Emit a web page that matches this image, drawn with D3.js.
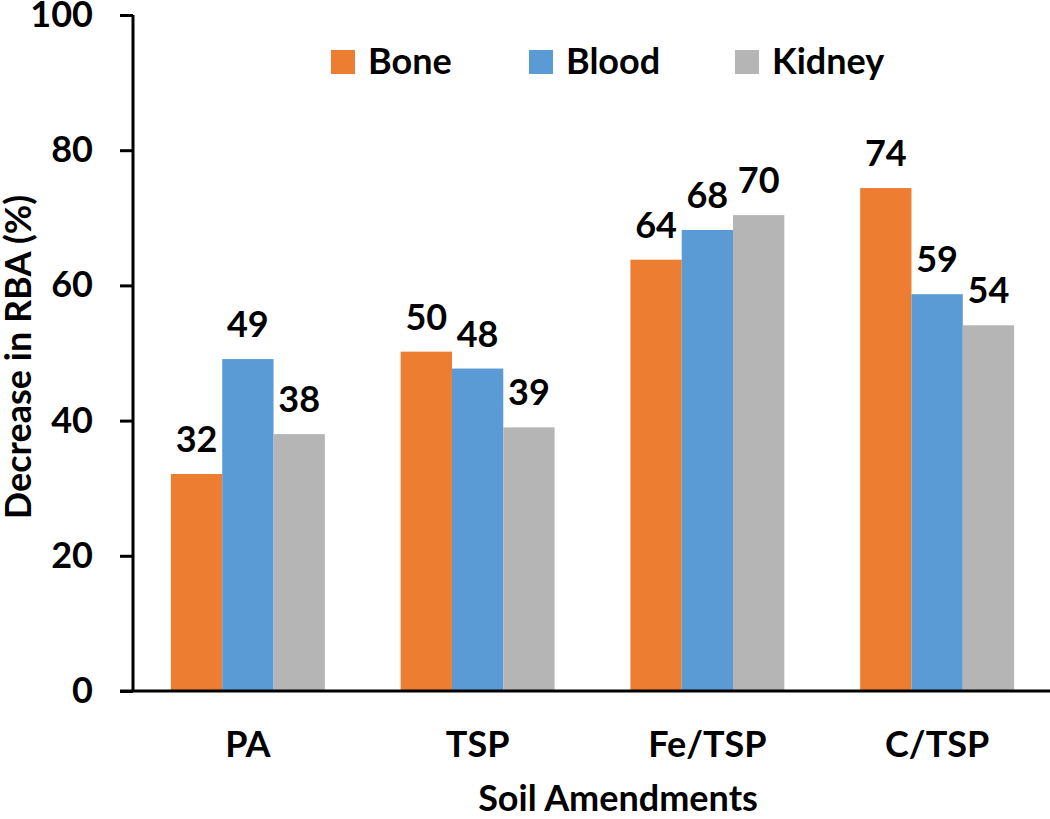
<!DOCTYPE html>
<html>
<head>
<meta charset="utf-8">
<script src="https://cdn.jsdelivr.net/npm/d3@7"></script>
<style>
  html, body { margin: 0; padding: 0; background: #fff; }
  svg { display: block; }
  text { font-family: Lato, "Open Sans", sans-serif; font-weight: 700; fill: #000; }
</style>
</head>
<body>
<svg id="chart" width="1050" height="819"></svg>
<script>
const categories = ["PA", "TSP", "Fe/TSP", "C/TSP"];
const seriesNames = ["Bone", "Blood", "Kidney"];
const bone = [32.1, 50.2, 63.8, 74.4];
const blood = [49.1, 47.7, 68.2, 58.7];
const kidney = [38.0, 39.0, 70.4, 54.1];
const yTicks = [0, 20, 40, 60, 80, 100];
const colors = ["#ED7D31", "#5B9BD5", "#B5B5B5"];
const seriesValues = [bone, blood, kidney];

const svg = d3.select("#chart");
const fs = 36;
const plotLeft = 133, plotRight = 1052, plotTop = 15, plotBottom = 691;

const x0 = d3.scaleBand().domain(categories).range([plotLeft, plotRight])
  .paddingInner(0.33).paddingOuter(0.165);
const x1 = d3.scaleBand().domain(seriesNames).range([0, x0.bandwidth()]).padding(0);
const y = d3.scaleLinear().domain([0, 100]).range([plotBottom, plotTop]);

// bars
const groups = svg.append("g").selectAll("g").data(categories).join("g")
  .attr("transform", c => `translate(${x0(c)},0)`);

groups.selectAll("rect")
  .data((c, i) => seriesNames.map((s, j) => ({ s, j, v: seriesValues[j][i] })))
  .join("rect")
  .attr("x", d => x1(d.s))
  .attr("width", x1.bandwidth())
  .attr("y", d => y(d.v))
  .attr("height", d => y(0) - y(d.v))
  .attr("fill", d => colors[d.j]);

groups.selectAll("text.lbl")
  .data((c, i) => seriesNames.map((s, j) => ({ s, j, v: seriesValues[j][i] })))
  .join("text")
  .attr("class", "lbl")
  .attr("x", d => x1(d.s) + x1.bandwidth() / 2)
  .attr("y", d => y(d.v) - 22)
  .attr("text-anchor", "middle")
  .attr("font-size", fs)
  .text(d => Math.round(d.v));

// y axis
const yAxis = d3.axisLeft(y).tickValues(yTicks).tickSize(13).tickPadding(27);
const gy = svg.append("g").attr("transform", `translate(${plotLeft},0)`).call(yAxis);
gy.select(".domain").attr("d", `M0,${plotTop}V${plotBottom}`).attr("stroke", "#000").attr("stroke-width", 3);
gy.selectAll(".tick line").attr("stroke", "#000").attr("stroke-width", 3);
gy.selectAll(".tick text").attr("font-size", fs).attr("font-family", "Lato, sans-serif")
  .attr("font-weight", 700).attr("fill", "#000");

// x axis
const xAxis = d3.axisBottom(x0).tickSize(0).tickPadding(40);
const gx = svg.append("g").attr("transform", `translate(0,${plotBottom})`).call(xAxis);
gx.select(".domain").attr("d", `M120,0H1050`).attr("stroke", "#000").attr("stroke-width", 3);
gx.selectAll(".tick text").attr("font-size", fs).attr("font-family", "Lato, sans-serif")
  .attr("font-weight", 700).attr("fill", "#000");

// axis titles
svg.append("text")
  .attr("x", 618).attr("y", 811)
  .attr("text-anchor", "middle").attr("font-size", fs)
  .text("Soil Amendments");

svg.append("text")
  .attr("transform", "translate(31,357) rotate(-90)")
  .attr("text-anchor", "middle").attr("font-size", fs)
  .text("Decrease in RBA (%)");

// legend
const legendX = [331, 529, 735];
const lg = svg.append("g").selectAll("g").data(seriesNames).join("g")
  .attr("transform", (d, i) => `translate(${legendX[i]},50)`);
lg.append("rect").attr("width", 24).attr("height", 24).attr("fill", (d, i) => colors[i]);
lg.append("text").attr("x", 37).attr("y", 24).attr("font-size", fs).text(d => d);
</script>
</body>
</html>
